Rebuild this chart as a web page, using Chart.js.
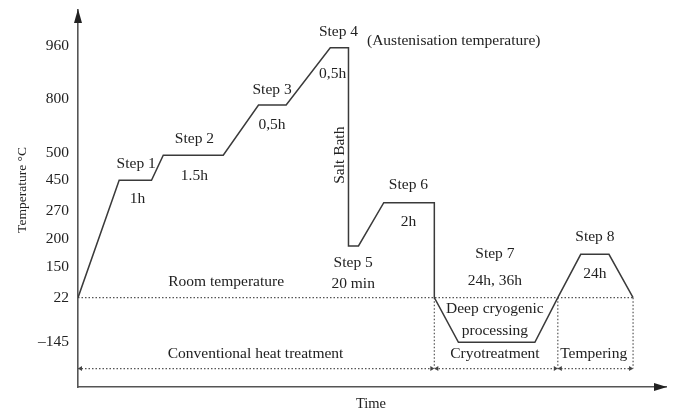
<!DOCTYPE html>
<html>
<head>
<meta charset="utf-8">
<script src="https://cdn.jsdelivr.net/npm/chart.js@4.4.1/dist/chart.umd.min.js"></script>
<style>
  html, body { margin: 0; padding: 0; background: #fff; }
</style>
</head>
<body>
<canvas id="chart" width="673" height="411"></canvas>
<script>
// Schematic heat-treatment cycle: time in arbitrary units, temperature as a
// "level" on the diagram (the temperature axis is not drawn to scale).
const profileTime  = [0, 7, 12.5, 14.5, 24.7, 30.7, 35.4, 42.9, 46, 46, 47.7, 52, 60.6, 60.6, 64.7, 77.7, 81.6, 85.5, 90.3, 94.4];
const profileLevel = [0, 4.2, 4.2, 5.1, 5.1, 6.9, 6.9, 8.95, 8.95, 1.85, 1.85, 3.4, 3.4, 0, -1.6, -1.6, 0, 1.55, 1.55, 0];

const tempTickLabels = ['\u2013145', '22', '150', '200', '270', '450', '500', '800', '960'];
const tempTickLevels = [-1.6, 0, 1.1, 2.1, 3.1, 4.2, 5.2, 7.1, 9.0];

const roomLevel = 0;
const phaseBarLevel = -2.54;
const phaseEdges = [0, 60.6, 81.6, 94.4];

// text on the diagram: [text, time, level, rotated]
const notes = [
  ['Step 1', 9.9, 4.8],
  ['1h', 10.1, 3.55],
  ['Step 2', 19.8, 5.7],
  ['1.5h', 19.8, 4.35],
  ['Step 3', 33.0, 7.45],
  ['0,5h', 33.0, 6.2],
  ['Step 4', 44.3, 9.5],
  ['0,5h', 43.3, 8.0],
  ['(Austenisation temperature)', 63.9, 9.2],
  ['Salt Bath', 44.5, 5.1, true],
  ['Step 6', 56.2, 4.05],
  ['2h', 56.2, 2.7],
  ['Step 5', 46.8, 1.25],
  ['20 min', 46.8, 0.5],
  ['Room temperature', 25.2, 0.55],
  ['Conventional heat treatment', 30.2, -2.0],
  ['Step 7', 70.9, 1.55],
  ['24h, 36h', 70.9, 0.6],
  ['Deep cryogenic', 70.9, -0.4],
  ['processing', 70.9, -1.18],
  ['Cryotreatment', 70.9, -2.0],
  ['Step 8', 87.9, 2.18],
  ['24h', 87.9, 0.86],
  ['Tempering', 87.7, -2.0]
];

const FONT = "'Liberation Serif', 'DejaVu Serif', serif";
const INK = '#222';
const LINE = '#3a3a3a';

const profilePoints = profileTime.map((t, i) => ({ x: t, y: profileLevel[i] }));
const last = phaseEdges[phaseEdges.length - 1];

const dotted = { showLine: true, pointRadius: 0, borderColor: '#555', borderWidth: 1.2, borderDash: [1.5, 2], fill: false };

const datasets = [
  {
    label: 'profile',
    data: profilePoints,
    showLine: true, pointRadius: 0, borderColor: LINE, borderWidth: 1.5, tension: 0, fill: false
  },
  Object.assign({ label: 'room', data: [{ x: 0, y: roomLevel }, { x: last, y: roomLevel }] }, dotted),
  Object.assign({ label: 'phases', data: [{ x: 0, y: phaseBarLevel }, { x: last, y: phaseBarLevel }] }, dotted)
];
phaseEdges.slice(1).forEach((e, i) => {
  datasets.push(Object.assign({ label: 'edge' + i, data: [{ x: e, y: roomLevel }, { x: e, y: phaseBarLevel }] }, dotted));
});

function arrow(ctx, x, y, dir, len, half) {
  ctx.beginPath();
  if (dir === 'up') { ctx.moveTo(x, y); ctx.lineTo(x - half, y + len); ctx.lineTo(x + half, y + len); }
  if (dir === 'right') { ctx.moveTo(x, y); ctx.lineTo(x - len, y - half); ctx.lineTo(x - len, y + half); }
  if (dir === 'left') { ctx.moveTo(x, y); ctx.lineTo(x + len, y - half); ctx.lineTo(x + len, y + half); }
  ctx.closePath();
  ctx.fill();
}

const overlay = {
  id: 'overlay',
  afterDraw(chart) {
    const { ctx, chartArea: a, scales: { x, y } } = chart;
    ctx.save();
    ctx.fillStyle = '#222';
    arrow(ctx, a.left, a.top - 1, 'up', 14, 4);
    arrow(ctx, a.right + 1, a.bottom, 'right', 13, 4);

    // small arrow marks on the phase bar
    ctx.fillStyle = '#444';
    const py = y.getPixelForValue(phaseBarLevel);
    phaseEdges.forEach((e, i) => {
      const px = x.getPixelForValue(e);
      if (i > 0) arrow(ctx, px, py, 'right', 4, 2.5);
      if (i < phaseEdges.length - 1) arrow(ctx, px, py, 'left', 4, 2.5);
    });

    ctx.fillStyle = INK;
    ctx.font = '15.5px ' + FONT;
    ctx.textAlign = 'center';
    ctx.textBaseline = 'middle';
    notes.forEach(([text, t, lv, rot]) => {
      const px = x.getPixelForValue(t), pyy = y.getPixelForValue(lv);
      if (rot) {
        ctx.save();
        ctx.translate(px, pyy);
        ctx.rotate(-Math.PI / 2);
        ctx.fillText(text, 0, 0);
        ctx.restore();
      } else {
        ctx.fillText(text, px, pyy);
      }
    });

    // axis titles
    ctx.font = '14.5px ' + FONT;
    ctx.fillText('Time', 371, 404);
    ctx.font = '13.5px ' + FONT;
    ctx.save();
    ctx.translate(22, 190);
    ctx.rotate(-Math.PI / 2);
    ctx.fillText('Temperature \u00b0C', 0, 0);
    ctx.restore();
    ctx.restore();
  }
};

new Chart(document.getElementById('chart'), {
  type: 'scatter',
  data: { datasets },
  options: {
    responsive: false,
    animation: false,
    devicePixelRatio: 1,
    layout: { padding: { top: 10, right: 7, left: 0, bottom: 0 } },
    plugins: { legend: { display: false }, tooltip: { enabled: false } },
    scales: {
      x: {
        type: 'linear', min: 0, max: 100,
        grid: { display: false, drawTicks: false },
        border: { display: true, color: '#555', width: 1.6 },
        ticks: { display: false },
        afterFit(s) { s.height = 24; s.paddingLeft = 0; s.paddingRight = 0; }
      },
      y: {
        type: 'linear', min: -3.2, max: 10.3,
        grid: { display: false, drawTicks: false },
        border: { display: true, color: '#555', width: 1.6 },
        afterBuildTicks(s) { s.ticks = tempTickLevels.map(v => ({ value: v })); },
        ticks: {
          padding: 9,
          color: INK,
          font: { family: FONT, size: 15.5 },
          callback: (v, i) => tempTickLabels[i]
        },
        afterFit(s) { s.width = 78; s.paddingTop = 0; s.paddingBottom = 0; }
      }
    }
  },
  plugins: [overlay]
});
</script>
</body>
</html>
